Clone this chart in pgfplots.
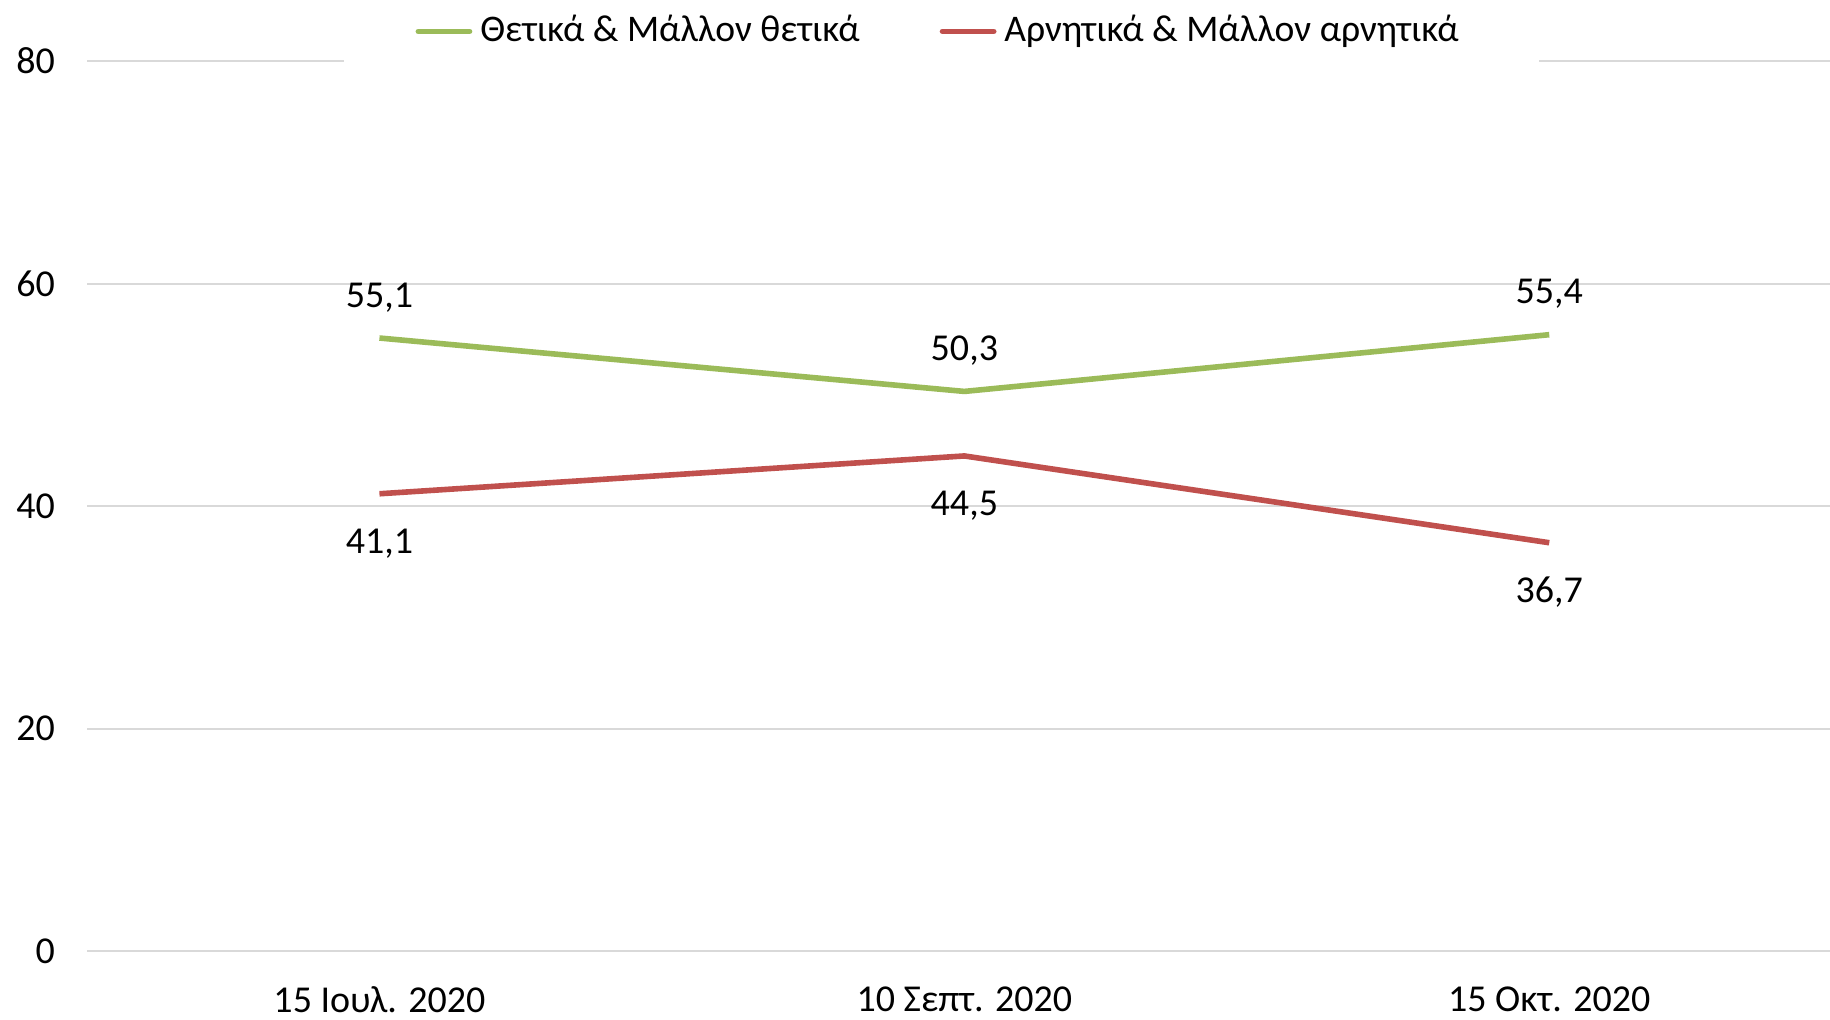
\documentclass[border=0pt]{standalone}
\usepackage{pgfplots}
\pgfplotsset{compat=1.18}
\usepackage{fontspec}
\setmainfont{Carlito}
\definecolor{posgreen}{HTML}{9BBB59}
\definecolor{negred}{HTML}{C0504D}
\definecolor{gridc}{HTML}{D9D9D9}
\begin{document}
\begin{tikzpicture}[x=1bp,y=1bp]
\begin{axis}[
  at={(21.75bp,17.25bp)}, anchor=south west,
  scale only axis, width=435.75bp, height=222.5bp,
  xmin=-0.5, xmax=2.48, ymin=0, ymax=80,
  xtick={0,1,2},
  xticklabels={15 Ιουλ. 2020, 10 Σεπτ. 2020, 15 Οκτ. 2020},
  ytick={0,20,40,60,80},
  ymajorgrids, grid style={gridc, line width=0.5bp},
  axis line style={draw=none},
  major tick length=0pt,
  tick label style={font=\fontsize{9.5bp}{11bp}\selectfont, text=black},
  /pgf/number format/assume math mode=true,
  yticklabel style={xshift=-4.5bp},
  xticklabel style={yshift=-5.4bp},
  clip=false,
  legend columns=2,
  legend style={at={(0.49,1)}, anchor=center, yshift=7.4bp, draw=none, fill=white,
    font=\fontsize{9.4bp}{11bp}\selectfont, inner xsep=18bp, inner ysep=3.8bp,
    /tikz/every even column/.append style={column sep=18bp}},
  legend image code/.code={\draw[#1, line cap=round] (0bp,0bp) -- (12.8bp,0bp);},
  nodes near coords, point meta=explicit symbolic,
  every node near coord/.append style={font=\fontsize{9.5bp}{11bp}\selectfont, text=black, anchor=center},
]
\addplot[posgreen, line width=1.4bp, every node near coord/.append style={yshift=10.2bp}] table[meta=l] {
x y l
0 55.1 55,1
1 50.3 50,3
2 55.4 55,4
};
\addlegendentry{Θετικά \& Μάλλον θετικά}
\addplot[negred, line width=1.4bp, every node near coord/.append style={yshift=-12.4bp}] table[meta=l] {
x y l
0 41.1 41,1
1 44.5 44,5
2 36.7 36,7
};
\addlegendentry{Αρνητικά \& Μάλλον αρνητικά}
\end{axis}
\pgfresetboundingbox
\path (0,0) rectangle (457.5bp,255bp);
\end{tikzpicture}
\end{document}
